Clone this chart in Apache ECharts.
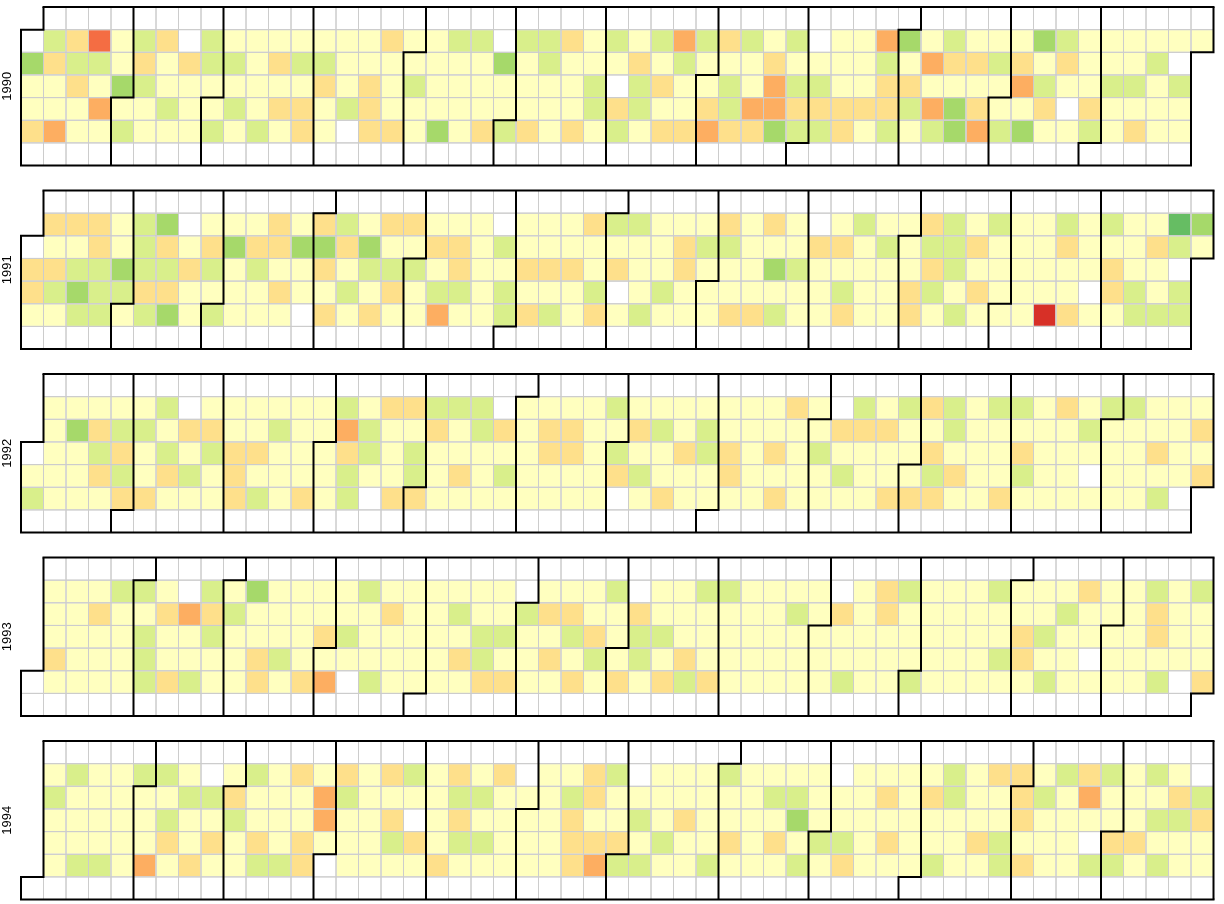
<!DOCTYPE html>
<html>
<head>
<meta charset="utf-8">
<script src="https://cdn.jsdelivr.net/npm/echarts@6/dist/echarts.min.js"></script>
<style>
  html, body { margin: 0; padding: 0; background: #fff; }
  #main { width: 1224px; height: 904px; }
</style>
</head>
<body>
<div id="main"></div>
<script>
// Daily change class of the Dow Jones index.
// -4 big fall ... 0 flat ... +3 big rise. null = market closed.
// Each year: 5 rows (Mon..Fri), 53 columns = week index (weeks start on Sunday).
const years = [1990, 1991, 1992, 1993, 1994];

const d1990 = [
  [null,1,-1,-3,0,1,-1,null,1,0,0,0,0,0,0,0,-1,0,0,1,1,null,1,1,-1,0, 1,0,1,-2,1,-1,1,0,1,null,0,0,-2,2,0,1,0,0,0,2,1,0,0,0,0,0,0],
  [2,-1,1,1,0,-1,0,-1,1,1,0,-1,1,1,0,0,0,0,0,0,0,2,0,1,0,0, 0,-1,0,1,0,0,0,-1,0,0,0,0,1,0,-2,-1,-1,1,-1,0,-1,0,0,0,1,null,null],
  [0,0,-1,0,2,1,0,0,0,0,0,0,0,-1,0,-1,0,1,0,0,0,0,0,0,0,1, null,1,-1,0,0,1,0,-2,1,1,0,0,-1,-1,0,0,0,0,-2,1,0,0,1,1,0,1,null],
  [0,0,0,-2,0,0,1,0,0,1,0,-1,-1,0,1,-1,0,0,0,0,0,0,0,0,0,1, -1,1,0,0,-1,1,-2,-2,-1,-1,-1,-1,-1,1,-2,2,-1,0,0,-1,null,-1,0,0,0,0,null],
  [-1,-2,0,0,1,0,0,0,1,0,1,0,-1,0,null,-1,-1,0,2,0,-1,1,-1,0,-1,0, 1,0,-1,-1,-2,-1,-1,2,1,1,-1,0,1,0,1,2,-2,1,2,0,0,1,0,-1,0,0,null]
];

const d1991 = [
  [null,-1,-1,-1,0,1,2,null,0,0,0,-1,0,-1,1,0,-1,-1,0,0,0,null,0,0,0,-1, 1,1,0,0,0,-1,0,-1,0,null,0,1,0,0,-1,1,0,1,0,0,1,0,1,0,0,3,2],
  [null,0,0,-1,0,1,-1,0,-1,2,-1,-1,2,2,-1,2,0,0,-1,-1,0,1,0,0,0,0, 0,0,0,-1,1,1,0,0,0,-1,-1,0,1,0,1,1,-1,0,0,0,-1,0,0,0,-1,1,0],
  [-1,-1,1,1,2,1,1,-1,1,0,1,0,0,-1,0,1,1,1,0,-1,0,0,-1,-1,-1,0, -1,0,0,-1,0,0,0,2,1,0,0,0,0,0,-1,1,0,0,0,0,0,0,-1,0,0,null,null],
  [-1,1,2,1,1,-1,-1,0,0,0,0,-1,0,0,1,0,-1,0,1,1,0,1,0,0,0,1, null,0,1,0,0,0,0,0,0,0,1,0,0,-1,1,0,-1,0,0,0,0,null,-1,1,0,1,null],
  [0,0,1,1,0,1,2,0,1,0,0,0,null,-1,0,-1,0,0,-2,0,0,1,-1,1,0,-1, 0,1,0,0,0,-1,-1,1,0,0,-1,0,0,-1,0,1,0,0,0,-4,-1,0,0,1,1,1,null]
];

const d1992 = [
  [null,0,0,0,0,0,1,null,0,0,0,0,0,0,1,0,-1,-1,1,1,1,null,0,0,0,0, 1,0,0,0,0,0,0,0,-1,0,null,1,0,1,-1,1,0,1,1,0,-1,0,1,1,0,0,0],
  [null,0,2,-1,1,1,0,-1,-1,0,0,1,0,0,-2,1,0,0,-1,0,1,-1,0,-1,-1,0, 0,-1,1,0,1,0,0,0,0,0,-1,-1,-1,0,0,1,0,0,0,0,0,1,0,0,0,0,-1],
  [null,0,0,1,-1,0,1,0,1,-1,-1,0,0,0,-1,1,0,1,0,0,0,0,0,-1,-1,0, 1,0,0,-1,1,-1,0,-1,0,1,0,0,0,0,-1,0,0,0,-1,0,0,0,0,0,-1,0,0],
  [0,0,0,-1,1,0,-1,1,0,-1,0,0,0,0,1,0,0,1,0,-1,0,1,0,0,0,0, -1,1,0,0,0,-1,0,0,0,0,1,0,0,0,1,-1,0,0,1,0,0,null,0,0,0,0,-1],
  [1,0,0,0,-1,-1,0,0,0,-1,1,0,-1,0,1,null,-1,-1,0,0,0,0,0,0,0,0, null,0,-1,0,0,0,0,-1,0,0,0,0,-1,-1,-1,0,0,-1,0,0,0,0,0,0,1,null,null]
];

const d1993 = [
  [null,0,0,0,1,1,0,null,1,0,2,0,0,0,0,1,0,0,0,0,0,0,null,0,0,0, 1,null,0,0,1,1,0,0,0,0,null,0,-1,1,0,0,0,1,0,0,0,-1,0,0,1,0,1],
  [null,0,0,-1,0,0,-1,-2,-1,1,0,0,0,0,0,0,-1,0,0,1,0,0,1,-1,-1,0, 0,-1,0,0,0,0,0,0,1,0,-1,0,-1,0,0,0,0,0,0,0,1,0,0,0,-1,0,0],
  [null,0,0,0,0,1,0,0,1,0,0,0,0,-1,1,0,0,0,0,0,1,1,0,0,1,-1, 0,1,1,0,0,0,0,0,0,0,0,0,0,0,0,0,0,0,-1,1,0,0,0,0,-1,0,0],
  [null,-1,0,0,0,1,0,0,0,0,-1,1,0,0,0,0,0,0,0,-1,1,0,0,-1,0,1, 0,1,0,-1,0,0,0,0,0,0,0,0,0,0,0,0,0,1,-1,0,0,null,0,0,0,0,0],
  [null,0,0,0,0,1,-1,1,0,0,-1,0,-1,-2,null,1,0,0,0,0,-1,-1,0,0,-1,0, -1,0,-1,1,-1,0,0,0,0,0,1,0,0,1,0,0,0,0,0,1,0,0,0,0,1,null,-1]
];

const d1994 = [
  [null,0,1,0,0,1,1,0,null,0,1,0,-1,0,-1,0,-1,1,0,-1,0,-1,null,0,0,-1, 1,null,0,0,0,1,0,0,0,0,null,0,0,0,0,1,0,-1,-1,0,1,-1,1,0,1,0,null],
  [null,1,0,0,0,0,0,1,1,-1,0,0,0,-2,1,0,0,0,0,1,1,0,0,0,1,-1, 0,0,0,0,0,0,0,1,1,0,0,0,-1,0,-1,1,0,0,-1,1,0,-2,0,0,0,-1,1],
  [null,0,0,0,0,0,1,0,0,1,0,0,0,-2,0,0,-1,null,0,-1,0,0,0,0,-1,0, 0,1,0,-1,0,0,0,0,2,0,0,0,0,0,0,0,0,0,-1,0,0,0,0,0,1,1,-1],
  [null,0,0,0,0,0,-1,0,-1,0,-1,0,-1,0,0,0,1,-1,0,1,1,0,0,0,-1,-1, -1,0,1,0,0,-1,0,-1,0,1,1,0,-1,0,0,0,-1,1,0,0,0,null,-1,-1,0,0,0],
  [null,0,1,1,0,-2,0,-1,0,0,1,1,-1,null,0,0,0,0,-1,0,0,0,0,0,-1,-2, 1,1,0,0,1,0,0,0,1,0,-1,0,0,0,1,0,0,1,-1,0,0,1,1,0,1,0,0]
];

const yearData = [d1990, d1991, d1992, d1993, d1994];

// colour classes (RdYlGn)
const levelValues = [-4, -3, -2, -1, 0, 1, 2, 3];
const levelColors = ['#d73027', '#f46d43', '#fdae61', '#fee08b', '#ffffbf', '#d9ef8b', '#a6d96a', '#66bd63'];

function pad(n) { return (n < 10 ? '0' : '') + n; }

function buildSeriesData(year, rows) {
  const jan1 = new Date(Date.UTC(year, 0, 1));
  const startSunday = new Date(jan1.getTime() - jan1.getUTCDay() * 86400000);
  const out = [];
  for (let r = 0; r < rows.length; r++) {
    const row = rows[r];
    for (let c = 0; c < row.length; c++) {
      const v = row[c];
      if (v === null || v === undefined) continue;
      const d = new Date(startSunday.getTime() + (7 * c + r + 1) * 86400000);
      if (d.getUTCFullYear() !== year) continue;
      out.push([d.getUTCFullYear() + '-' + pad(d.getUTCMonth() + 1) + '-' + pad(d.getUTCDate()), v]);
    }
  }
  return out;
}

const tops = [7, 190.5, 374, 557.5, 741];

const calendar = years.map((y, i) => ({
  left: 21,
  top: tops[i],
  orient: 'horizontal',
  cellSize: [22.5, 22.65],
  range: String(y),
  splitLine: { show: true, lineStyle: { color: '#000', width: 2 } },
  itemStyle: { color: 'rgba(255,255,255,0)', borderColor: '#cccccc', borderWidth: 1 },
  dayLabel: { show: false },
  monthLabel: { show: false },
  yearLabel: {
    show: true, position: 'left', margin: 7,
    color: '#000', fontSize: 13, fontFamily: 'Liberation Sans, Arial, sans-serif', fontWeight: 'normal'
  }
}));

const series = years.map((y, i) => ({
  type: 'heatmap',
  coordinateSystem: 'calendar',
  calendarIndex: i,
  z: 1,
  data: buildSeriesData(y, yearData[i]),
  itemStyle: { borderWidth: 0 },
  emphasis: { disabled: true }
}));

const chart = echarts.init(document.getElementById('main'));
chart.setOption({
  backgroundColor: '#fff',
  animation: false,
  tooltip: { show: false },
  visualMap: {
    type: 'piecewise',
    show: false,
    dimension: 1,
    seriesIndex: [0, 1, 2, 3, 4],
    pieces: levelValues.map((v, k) => ({ value: v, color: levelColors[k] }))
  },
  calendar: calendar,
  series: series
});
</script>
</body>
</html>
